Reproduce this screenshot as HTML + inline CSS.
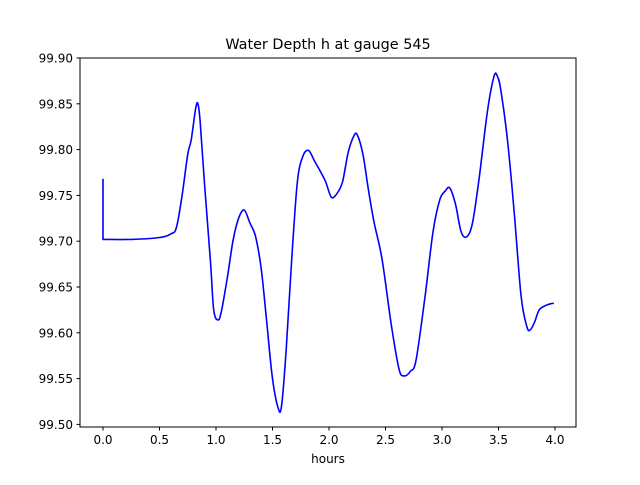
<!DOCTYPE html>
<html><head><meta charset="utf-8"><style>
body{margin:0;background:#fff;}
svg text{font-family:"DejaVu Sans","Liberation Sans",sans-serif;fill:#000;}
</style></head><body>
<svg id="chart" width="640" height="480" xmlns="http://www.w3.org/2000/svg">
<rect width="640" height="480" fill="#fff"/>
<text x="328" y="49" font-size="14.4" text-anchor="middle">Water Depth h at gauge 545</text>
<text x="328" y="463" font-size="12" text-anchor="middle">hours</text>
<g id="ticks"></g>
<path id="line" fill="none" stroke="#0000ff" stroke-width="1.6" stroke-linejoin="round"/>
<rect x="80" y="58" width="496" height="369" fill="none" stroke="#000" stroke-width="1"/>
</svg>
<script>
const hours=[0,0,0.25,0.5,0.6,0.65,0.7,0.75,0.78,0.82,0.84,0.86,0.9,0.95,0.98,1.02,1.05,1.1,1.15,1.2,1.25,1.3,1.35,1.4,1.45,1.5,1.55,1.58,1.62,1.67,1.72,1.77,1.82,1.87,1.92,1.97,2.02,2.07,2.12,2.17,2.22,2.25,2.3,2.35,2.4,2.47,2.55,2.62,2.67,2.72,2.77,2.85,2.92,2.98,3.03,3.07,3.12,3.17,3.22,3.27,3.33,3.4,3.46,3.49,3.52,3.58,3.64,3.7,3.75,3.78,3.82,3.86,3.92,3.97,3.99];
const depth=[99.768,99.702,99.702,99.704,99.708,99.715,99.75,99.795,99.81,99.845,99.85,99.83,99.76,99.68,99.625,99.614,99.625,99.66,99.7,99.725,99.734,99.72,99.705,99.67,99.61,99.55,99.518,99.52,99.58,99.68,99.765,99.793,99.799,99.788,99.777,99.765,99.748,99.752,99.765,99.797,99.815,99.816,99.795,99.755,99.72,99.68,99.61,99.56,99.553,99.558,99.57,99.64,99.71,99.745,99.755,99.758,99.74,99.71,99.705,99.72,99.77,99.84,99.88,99.88,99.865,99.81,99.73,99.64,99.607,99.603,99.612,99.625,99.63,99.632,99.632];
const xTicks=[0,0.5,1,1.5,2,2.5,3,3.5,4];
const yTicks=[99.50,99.55,99.60,99.65,99.70,99.75,99.80,99.85,99.90];
const X=v=>103+v*113;
const Y=v=>58+(99.90-v)/0.05*45.8;
const NS='http://www.w3.org/2000/svg';
const g=document.getElementById('ticks');
function mk(t,a){const e=document.createElementNS(NS,t);for(const k in a)e.setAttribute(k,a[k]);g.appendChild(e);return e;}
xTicks.forEach(v=>{
 const l=mk('line',{x1:X(v),x2:X(v),y1:427,y2:430.5,stroke:'#000'});
 
 
 const t=mk('text',{x:X(v),y:444,'font-size':12,'text-anchor':'middle'});t.textContent=v.toFixed(1);
 
 
});
yTicks.forEach(v=>{
 const l=mk('line',{x1:76.5,x2:80,y1:Y(v),y2:Y(v),stroke:'#000'});
 
 
 const t=mk('text',{x:73,y:Y(v)+4.5,'font-size':12,'text-anchor':'end'});t.textContent=v.toFixed(2);
 
 
});
const P=hours.map((h,i)=>[X(h),Y(depth[i])]);
let d='M'+P[0][0].toFixed(1)+','+P[0][1].toFixed(1)+'L'+P[1][0].toFixed(1)+','+P[1][1].toFixed(1);
for(let i=1;i<P.length-1;i++){
 const p0=P[Math.max(1,i-1)],p1=P[i],p2=P[i+1],p3=P[Math.min(P.length-1,i+2)];
 const c1=[p1[0]+(p2[0]-p0[0])/6,p1[1]+(p2[1]-p0[1])/6];
 const c2=[p2[0]-(p3[0]-p1[0])/6,p2[1]-(p3[1]-p1[1])/6];
 d+='C'+c1[0].toFixed(1)+','+c1[1].toFixed(1)+' '+c2[0].toFixed(1)+','+c2[1].toFixed(1)+' '+p2[0].toFixed(1)+','+p2[1].toFixed(1);
}
document.getElementById('line').setAttribute('d',d);
</script>
</body></html>
